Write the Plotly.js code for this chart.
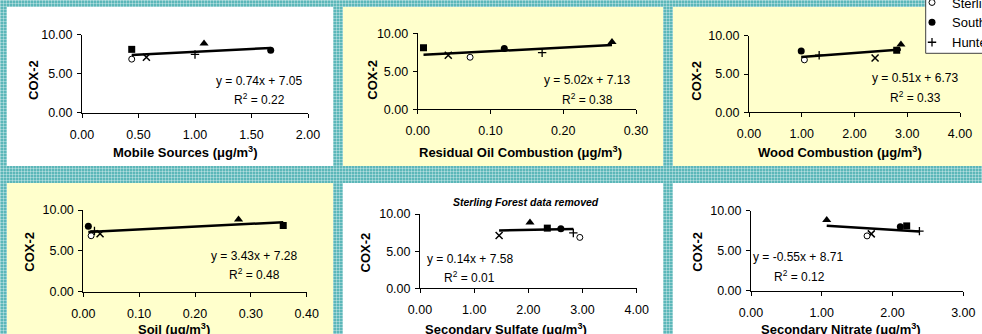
<!DOCTYPE html>
<html><head><meta charset="utf-8">
<script src="https://cdn.plot.ly/plotly-3.0.1.min.js"></script>
<style>
html,body{margin:0;padding:0;width:982px;height:334px;overflow:hidden;}
body{background-color:#5cb7b9;
 background-image:
  repeating-linear-gradient(0deg, rgba(255,255,255,0.32) 0px, rgba(255,255,255,0.32) 1px, transparent 1px, transparent 3px),
  repeating-linear-gradient(90deg, rgba(255,255,255,0.32) 0px, rgba(255,255,255,0.32) 1px, transparent 1px, transparent 3px);}
#chart{width:982px;height:334px;}
</style></head><body><div id="chart"></div>
<script>
// ---------- data ----------
const sites = ["Site 1", "Site 2", "Site 3", "Sterling Forest", "South Bronx", "Hunter College"];
const cox2 = [8.10, 8.85, 7.10, 6.85, 8.00, 7.45];

const mobileSources    = [0.44, 1.08, 0.57, 0.44, 1.67, 1.00];
const residualOil      = [0.008, 0.267, 0.042, 0.072, 0.119, 0.171];
const woodCombustion   = [2.80, 2.88, 2.39, 1.05, 0.99, 1.33];
const soil             = [0.358, 0.278, 0.030, 0.014, 0.009, 0.020];
const secondarySulfate = [2.35, 2.03, 1.46, 2.95, 2.60, 2.83];
const secondaryNitrate = [2.20, 1.07, 1.70, 1.64, 2.11, 2.38];

const sourceNames = ["Mobile Sources", "Residual Oil Combustion", "Wood Combustion", "Soil", "Secondary Sulfate", "Secondary Nitrate"];
const slopes     = [0.74, 5.02, 0.51, 3.43, 0.14, -0.55];
const intercepts = [7.05, 7.13, 6.73, 7.28, 7.58, 8.71];
const rSquared   = [0.22, 0.38, 0.33, 0.48, 0.01, 0.12];
const fitExcluded = [[], [], [], [], ["Sterling Forest"], []];
const xMax  = [2, 0.3, 4, 0.4, 4, 3];
const xStep = [0.5, 0.1, 1, 0.1, 1, 1];
const yTicks = [0, 5, 10];
const panelNote = ["", "", "", "", "Sterling Forest data removed", ""];

const sourceX = [mobileSources, residualOil, woodCombustion, soil, secondarySulfate, secondaryNitrate];

// ---------- styling / layout ----------
const W = 982, H = 334;
const FONT = "Liberation Sans, Arial, sans-serif";
const fx = x => x / W, fy = y => 1 - y / H;

const panels = [
  {bg:[7,7,333,166],   fill:"#ffffff", plot:[82,34.5,308,112.7],   ytitle:[33,80],   xtitle:[185.5,152], eq:[258.5,81], r2:[259,99]},
  {bg:[343,7,663,166], fill:"#ffffcc", plot:[417.7,33.3,636,109.3], ytitle:[371.7,80], xtitle:[520,152],  eq:[586.7,80], r2:[587,99]},
  {bg:[673,7,982,166], fill:"#ffffcc", plot:[749,35.7,960,112.3],  ytitle:[696.7,81], xtitle:[840.3,151.7], eq:[915,77.7], r2:[915.5,96.7]},
  {bg:[7,183,333,334], fill:"#ffffcc", plot:[83.3,210,306.7,291.7], ytitle:[30,251.7], xtitle:[174,329],  eq:[254,255.7], r2:[254.5,274]},
  {bg:[343,183,663,334], fill:"#ffffff", plot:[420,214,636.7,288.3], ytitle:[365,252.5], xtitle:[506,328.5], eq:[470,259], r2:[469,277.3], note:[525.7,201.7]},
  {bg:[673,183,982,334], fill:"#ffffff", plot:[751,210.7,963.3,290.7], ytitle:[698,251.7], xtitle:[840.5,329], eq:[798,256.7], r2:[799.5,275.7]}
];

const markerStyles = [
  {symbol:"square", size:7, color:"#000", line:{width:0}},
  {symbol:"triangle-up", size:8, color:"#000", line:{width:0}},
  {symbol:"x-thin-open", size:7, color:"#000", line:{width:1.5, color:"#000"}},
  {symbol:"circle", size:6, color:"#fff", line:{width:1, color:"#000"}},
  {symbol:"circle", size:7, color:"#000", line:{width:0}},
  {symbol:"cross-thin-open", size:6, color:"#000", line:{width:1.3, color:"#000"}}
];

const traces = [];
const layout = {
  width: W, height: H,
  margin: {l:0, r:0, t:0, b:0, autoexpand:false},
  paper_bgcolor: "rgba(0,0,0,0)",
  plot_bgcolor: "rgba(0,0,0,0)",
  font: {family: FONT, size: 12, color: "#000"},
  showlegend: true,
  legend: {x: fx(912), xanchor: "left", y: fy(57.5), yanchor: "bottom",
           bgcolor: "rgba(0,0,0,0)", borderwidth: 0, itemwidth: 30,
           font: {family: FONT, size: 13, color: "#000"}, tracegroupgap: 0},
  shapes: [], annotations: []
};

function ann(text, x, y, opts) {
  return Object.assign({text, x: fx(x), y: fy(y), xref: "paper", yref: "paper",
    xanchor: "center", yanchor: "middle", showarrow: false,
    font: {family: FONT, size: 12, color: "#000"}}, opts || {});
}

panels.forEach((p, i) => {
  const n = i + 1;
  const xa = "x" + (n === 1 ? "" : n), ya = "y" + (n === 1 ? "" : n);
  layout.shapes.push({type: "rect", xref: "paper", yref: "paper", layer: "below",
    x0: fx(p.bg[0]), x1: fx(p.bg[2]), y0: fy(p.bg[3]), y1: fy(p.bg[1]),
    fillcolor: p.fill, line: {width: 0}});
  const axCommon = {showline: true, linecolor: "#000", linewidth: 1, ticks: "outside", ticklen: 4,
    tickcolor: "#000", tickwidth: 1, showgrid: false, zeroline: false, fixedrange: true,
    tickformat: ".2f", tickfont: {family: FONT, size: 12.5, color: "#000"}};
  layout["xaxis" + (n === 1 ? "" : n)] = Object.assign({}, axCommon, {
    domain: [fx(p.plot[0]), fx(p.plot[2])], range: [0, xMax[i]], tick0: 0, dtick: xStep[i],
    anchor: ya, ticklabelstandoff: 6});
  layout["yaxis" + (n === 1 ? "" : n)] = Object.assign({}, axCommon, {
    domain: [fy(p.plot[3]), fy(p.plot[1])], range: [0, 10], tickmode: "array", tickvals: yTicks,
    anchor: xa, ticklabelstandoff: 2});

  const xs = sourceX[i];
  sites.forEach((s, k) => {
    const showL = (i === 2 && k >= 3);
    traces.push({type: "scatter", mode: "markers", x: [xs[k]], y: [cox2[k]], xaxis: xa, yaxis: ya,
      name: s, legendgroup: s, showlegend: showL, cliponaxis: false, marker: markerStyles[k], hoverinfo: "skip"});
  });
  // trendline from the printed equation across the fitted x-range
  const fitX = xs.filter((v, k) => fitExcluded[i].indexOf(sites[k]) < 0);
  const x0 = Math.min(...fitX), x1 = Math.max(...fitX);
  traces.push({type: "scatter", mode: "lines", x: [x0, x1],
    y: [slopes[i] * x0 + intercepts[i], slopes[i] * x1 + intercepts[i]],
    xaxis: xa, yaxis: ya, showlegend: false, line: {color: "#000", width: 2.5}, hoverinfo: "skip"});

  const sgn = intercepts[i] >= 0 ? "+" : "-";
  const eqText = "y = " + slopes[i].toFixed(2) + "x " + sgn + " " + Math.abs(intercepts[i]).toFixed(2);
  layout.annotations.push(ann(eqText, p.eq[0], p.eq[1]));
  layout.annotations.push(ann("R<sup>2</sup> = " + rSquared[i].toFixed(2), p.r2[0], p.r2[1]));
  layout.annotations.push(ann("<b>COX-2</b>", p.ytitle[0], p.ytitle[1], {textangle: -90, font: {family: FONT, size: 13, color: "#000"}}));
  layout.annotations.push(ann("<b>" + sourceNames[i] + " (μg/m<sup>3</sup>)</b>", p.xtitle[0], p.xtitle[1], {font: {family: FONT, size: 13, color: "#000"}}));
  if (panelNote[i]) {
    layout.annotations.push(ann("<b><i>" + panelNote[i] + "</i></b>", p.note[0], p.note[1], {font: {family: FONT, size: 10.5, color: "#000"}}));
  }
});

// legend frame (white box with dark border, cut by the top/right edges like the reference)
layout.shapes.push({type: "rect", xref: "paper", yref: "paper", layer: "below",
  x0: fx(925.7), x1: fx(995), y0: fy(53.3), y1: fy(-10),
  fillcolor: "#ffffff", line: {width: 1, color: "#404040"}});

Plotly.newPlot("chart", traces, layout, {staticPlot: true, displayModeBar: false});
</script></body></html>
